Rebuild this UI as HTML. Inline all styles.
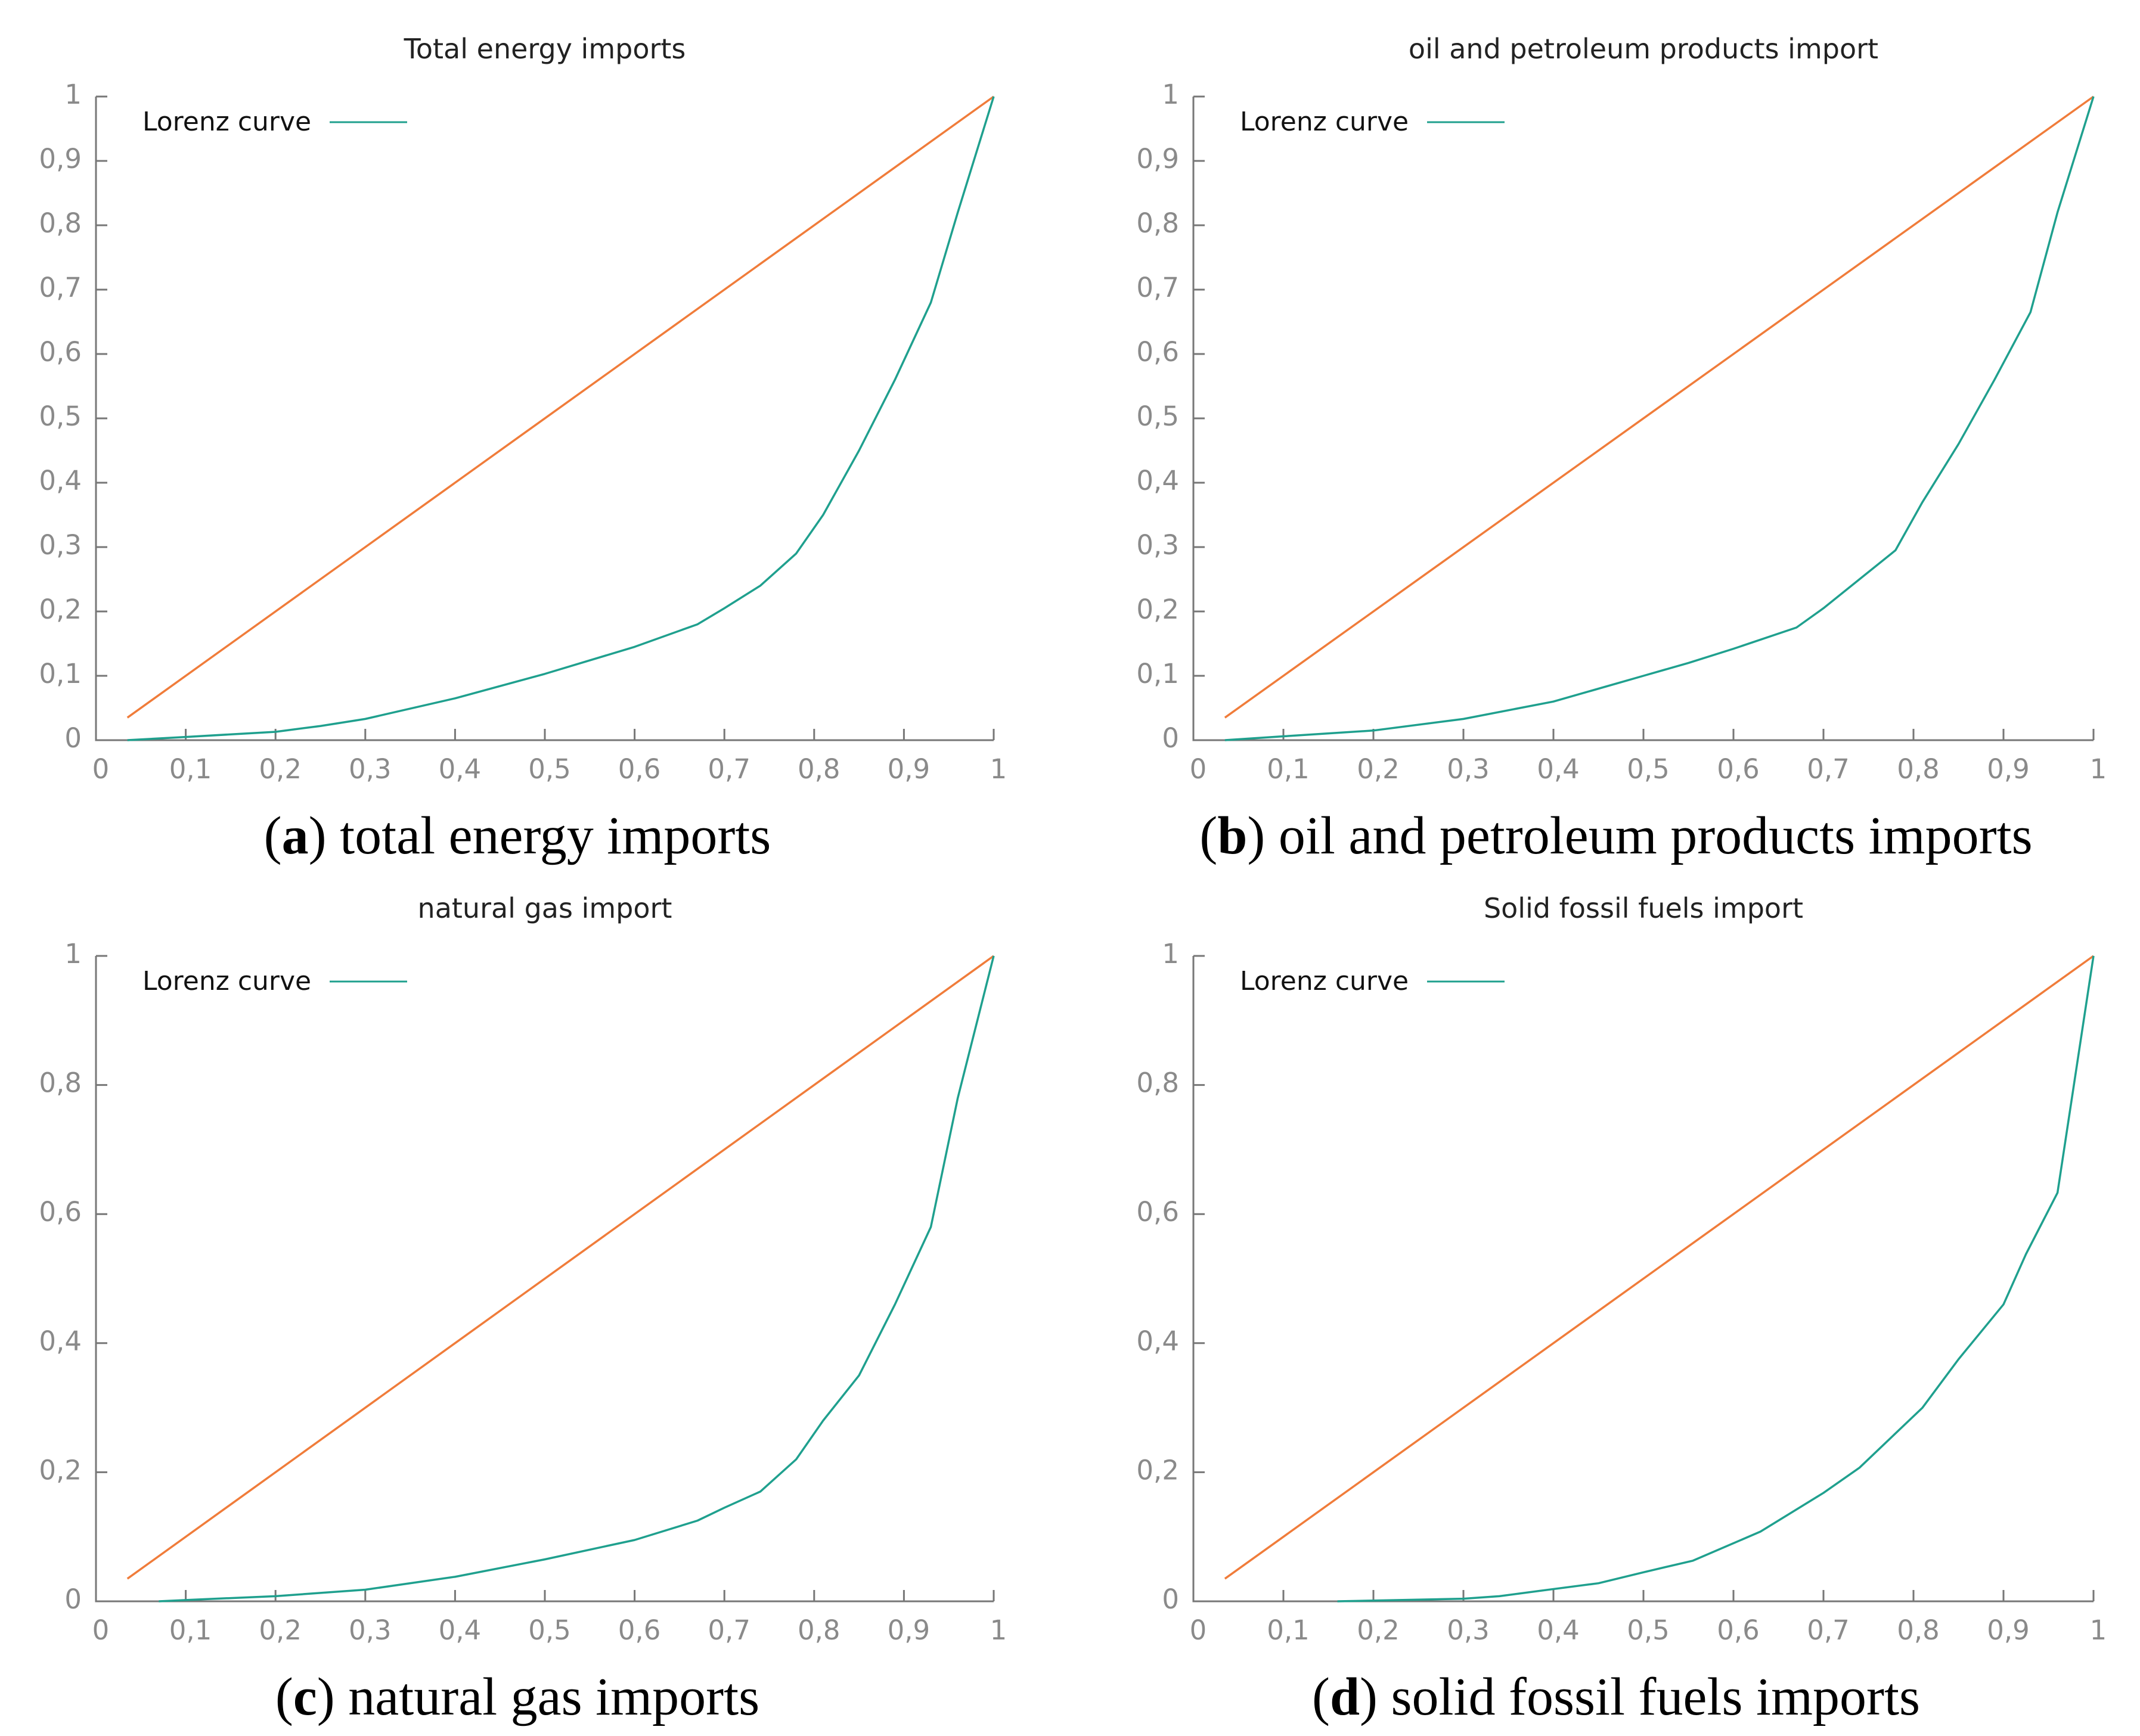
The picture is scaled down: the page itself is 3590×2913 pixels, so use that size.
<!DOCTYPE html>
<html><head><meta charset="utf-8">
<style>
html,body{margin:0;padding:0;background:#fff;}
svg{display:block;}
</style></head>
<body>
<svg id="fig" width="3590" height="2913" viewBox="0 0 3590 2913" xmlns="http://www.w3.org/2000/svg"></svg>
<script>
const ticksX = [0,0.1,0.2,0.3,0.4,0.5,0.6,0.7,0.8,0.9,1];
const ticksXLabels = ["0","0,1","0,2","0,3","0,4","0,5","0,6","0,7","0,8","0,9","1"];
const ticksYFine = [0,0.1,0.2,0.3,0.4,0.5,0.6,0.7,0.8,0.9,1];
const ticksYFineLabels = ["0","0,1","0,2","0,3","0,4","0,5","0,6","0,7","0,8","0,9","1"];
const ticksYCoarse = [0,0.2,0.4,0.6,0.8,1];
const ticksYCoarseLabels = ["0","0,2","0,4","0,6","0,8","1"];
const equalityX = [0.035,1];
const equalityY = [0.035,1];

const aX = [0.035,0.1,0.2,0.25,0.3,0.4,0.5,0.6,0.67,0.7,0.74,0.78,0.81,0.85,0.89,0.93,0.96,1];
const aY = [0,0.005,0.013,0.022,0.033,0.065,0.103,0.145,0.18,0.205,0.24,0.29,0.35,0.45,0.56,0.68,0.82,1];
const bX = [0.035,0.1,0.2,0.3,0.4,0.5,0.55,0.6,0.67,0.7,0.74,0.78,0.81,0.85,0.89,0.93,0.96,1];
const bY = [0,0.006,0.015,0.033,0.06,0.1,0.12,0.142,0.175,0.205,0.25,0.295,0.37,0.46,0.56,0.665,0.82,1];
const cX = [0.07,0.1,0.2,0.3,0.4,0.5,0.6,0.67,0.7,0.74,0.78,0.81,0.85,0.89,0.93,0.96,1];
const cY = [0,0.002,0.008,0.018,0.038,0.065,0.095,0.125,0.145,0.17,0.22,0.28,0.35,0.46,0.58,0.78,1];
const dX = [0.16,0.3,0.34,0.4,0.45,0.5,0.555,0.63,0.7,0.74,0.81,0.85,0.9,0.925,0.96,1];
const dY = [0,0.004,0.008,0.019,0.028,0.045,0.063,0.108,0.168,0.207,0.30,0.375,0.46,0.538,0.633,1];

const NS = "http://www.w3.org/2000/svg";
const svg = document.getElementById('fig');
function mk(tag, attrs, parent){
  const e = document.createElementNS(NS, tag);
  for (const k in attrs) e.setAttribute(k, attrs[k]);
  (parent||svg).appendChild(e);
  return e;
}
const panels = [
  {key:'a', x0:161, y0:1242, x1:1667, y1:162, title:'Total energy imports', cap:'a', capText:' total energy imports', capY:1432, xs:aX, ys:aY, yt:ticksYFine, ytl:ticksYFineLabels},
  {key:'b', x0:2002, y0:1242, x1:3512, y1:162, title:'oil and petroleum products import', cap:'b', capText:' oil and petroleum products imports', capY:1432, xs:bX, ys:bY, yt:ticksYFine, ytl:ticksYFineLabels},
  {key:'c', x0:161, y0:2687, x1:1667, y1:1604, title:'natural gas import', cap:'c', capText:' natural gas imports', capY:2877, xs:cX, ys:cY, yt:ticksYCoarse, ytl:ticksYCoarseLabels},
  {key:'d', x0:2002, y0:2687, x1:3512, y1:1604, title:'Solid fossil fuels import', cap:'d', capText:' solid fossil fuels imports', capY:2877, xs:dX, ys:dY, yt:ticksYCoarse, ytl:ticksYCoarseLabels}
];
panels.forEach(p=>{
  const g = mk('g',{});
  
  
  const sx = v => p.x0 + v*(p.x1-p.x0);
  const sy = v => p.y0 - v*(p.y0-p.y1);
  const cx = (p.x0+p.x1)/2;
  const t = mk('text',{x:cx, y:p.y1-64, 'text-anchor':'middle', 'font-family':'DejaVu Sans, Liberation Sans, sans-serif', 'font-size':'46', fill:'#222'}, g);
  t.textContent = p.title;
  
  
  const ax = mk('path',{d:`M${p.x0} ${p.y1} V${p.y0} H${p.x1}`, fill:'none', stroke:'#777', 'stroke-width':'3'}, g);
  
  
  ticksX.forEach((v,i)=>{
    mk('line',{x1:sx(v), x2:sx(v), y1:p.y0, y2:p.y0-19, stroke:'#777','stroke-width':'3'}, g);
    const l = mk('text',{x:sx(v)+8, y:p.y0+64, 'text-anchor':'middle','font-family':'DejaVu Sans, Liberation Sans, sans-serif','font-size':'45', fill:'#8a8a8a'}, g);
    l.textContent = ticksXLabels[i];
    
    
  });
  p.yt.forEach((v,i)=>{
    mk('line',{x1:p.x0, x2:p.x0+19, y1:sy(v), y2:sy(v), stroke:'#777','stroke-width':'3'}, g);
    const l = mk('text',{x:p.x0-24, y:sy(v)+12, 'text-anchor':'end','font-family':'DejaVu Sans, Liberation Sans, sans-serif','font-size':'45', fill:'#8a8a8a'}, g);
    l.textContent = p.ytl[i];
    
    
  });
  const eq = mk('polyline',{points: equalityX.map((v,i)=>sx(v)+','+sy(equalityY[i])).join(' '), fill:'none', stroke:'#f07c3a','stroke-width':'3.5'}, g);
  
  
  const lz = mk('polyline',{points: p.xs.map((v,i)=>sx(v)+','+sy(p.ys[i])).join(' '), fill:'none', stroke:'#1fa08e','stroke-width':'3.5','stroke-linejoin':'round'}, g);
  
  
  const lt = mk('text',{x:p.x0+78, y:p.y1+57, 'font-family':'DejaVu Sans, Liberation Sans, sans-serif','font-size':'44', fill:'#111'}, g);
  lt.textContent = 'Lorenz curve';
  
  
  const ll = mk('line',{x1:p.x0+392, x2:p.x0+522, y1:p.y1+43, y2:p.y1+43, stroke:'#1fa08e','stroke-width':'3'}, g);
  
  
  const cap = mk('text',{x:(p.x0+p.x1)/2 - 46, y:p.capY, 'text-anchor':'middle','font-family':'Liberation Serif, serif','font-size':'90', fill:'#000'}, g);
  
  
  const s1 = mk('tspan',{}, cap); s1.textContent='(';
  const s2 = mk('tspan',{'font-weight':'bold'}, cap); s2.textContent=p.cap;
  const s3 = mk('tspan',{}, cap); s3.textContent=')'+p.capText;
});
</script>
</body></html>
